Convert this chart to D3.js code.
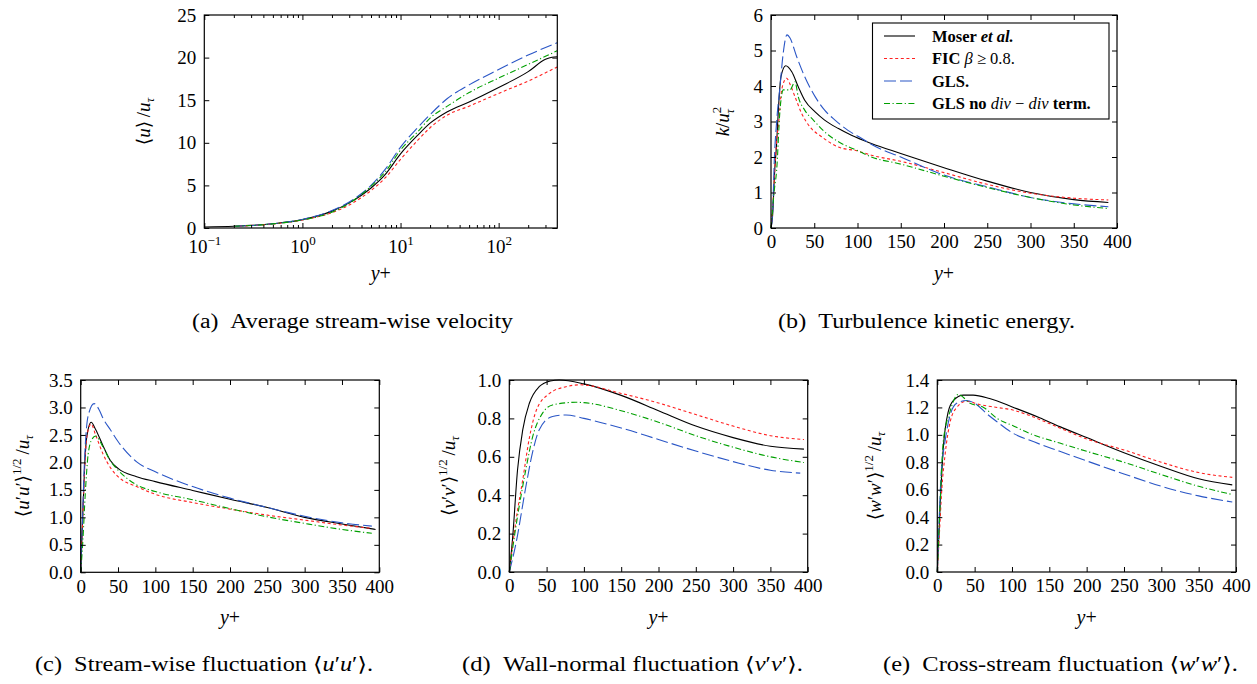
<!DOCTYPE html>
<html><head><meta charset="utf-8">
<script src="https://cdn.jsdelivr.net/npm/d3@7"></script>
<style>
body{margin:0;background:#fff}
svg{display:block}
text{font-family:'Liberation Serif','DejaVu Serif',serif;fill:#000}
</style>
</head><body>
<svg id="chart" width="1257" height="684"></svg>
<script>
// ---------- DATA ----------
// (a) mean velocity <u>/u_tau vs y+ (log x)
const aMoser = [[0.1,0.12],[0.2,0.2],[0.5,0.5],[1,0.98],[2,1.98],[3,2.95],[5,4.7],[7,6.3],[10,8.7],[15,10.9],[20,12.3],[30,13.65],[50,14.8],[100,16.5],[200,18.35],[300,19.8],[350,20.05],[395,20.1]];
const aFIC   = [[0.2,0.2],[0.5,0.48],[1,0.95],[2,1.8],[3,2.7],[5,4.4],[7,5.9],[10,8.06],[15,10.3],[20,11.77],[30,13.26],[50,14.3],[100,15.8],[200,17.25],[395,18.9]];
const aGLS   = [[0.2,0.2],[0.5,0.5],[1,1.0],[2,2.05],[3,3.05],[5,5.0],[7,6.9],[10,9.5],[15,11.8],[20,13.3],[30,15.2],[50,16.8],[100,18.6],[200,20.3],[395,21.75]];
const aGLSnd = [[0.2,0.2],[0.5,0.48],[1,0.95],[2,1.85],[3,2.9],[5,4.9],[7,6.6],[10,9.15],[15,11.3],[20,12.9],[30,14.3],[50,15.9],[100,17.6],[200,19.2],[395,20.8]];
// (b) turbulence kinetic energy k/u_tau^2
const bMoser = [[0,0],[2,0.4],[4,1.5],[6.5,2.38],[8.5,3.32],[11.5,4.26],[17,4.57],[24,4.4],[31.5,3.98],[39,3.6],[51,3.27],[62,3.04],[78,2.8],[93,2.61],[116,2.38],[150,2.1],[200,1.7],[250,1.32],[300,1.0],[350,0.8],[390,0.72]];
const bFIC   = [[0,0],[3,1.0],[6,2.3],[9.2,3.04],[12.3,3.89],[18,4.22],[22,4.05],[27.7,3.7],[35.4,3.23],[45,2.85],[58.5,2.57],[78,2.28],[100,2.17],[116,2.05],[150,1.88],[200,1.56],[250,1.23],[300,0.98],[350,0.84],[390,0.79]];
const bGLS   = [[0,0],[2,0.5],[3.8,1.9],[6.5,2.99],[10.4,3.98],[14,4.9],[18.5,5.44],[22,5.35],[29.6,4.83],[39,4.26],[51,3.7],[62,3.32],[74,3.04],[89,2.75],[105,2.52],[118,2.33],[150,2.0],[200,1.49],[250,1.16],[300,0.86],[350,0.68],[390,0.6]];
const bGLSnd = [[0,0],[3.8,1.06],[6.5,1.62],[10.4,3.32],[14.2,3.89],[22,3.89],[27.7,4.12],[31.5,3.7],[39,3.32],[49,3.04],[62,2.71],[81.5,2.38],[100,2.18],[116,2.0],[150,1.8],[200,1.46],[250,1.14],[300,0.86],[350,0.65],[390,0.55]];
// (c) stream-wise fluctuation
const cMoser = [[0,0],[2,0.75],[5,1.85],[8,2.45],[14,2.73],[20,2.6],[30,2.3],[40,2.03],[50,1.89],[75,1.74],[100,1.65],[150,1.49],[200,1.33],[250,1.18],[300,1.0],[350,0.88],[395,0.78]];
const cFIC   = [[0,0],[2,0.7],[5,1.8],[8,2.45],[14,2.7],[20,2.5],[30,2.15],[40,1.9],[50,1.74],[75,1.56],[100,1.42],[150,1.27],[200,1.15],[250,1.04],[300,0.95],[350,0.86],[390,0.8]];
const cGLS   = [[0,0],[2,0.8],[5,2.0],[10,2.85],[18,3.07],[25,2.95],[30,2.8],[40,2.59],[50,2.38],[75,2.01],[100,1.83],[150,1.56],[200,1.35],[250,1.18],[300,1.02],[350,0.9],[390,0.84]];
const cGLSnd = [[0,0],[3,0.6],[6,1.4],[10,2.15],[15,2.42],[20,2.48],[30,2.28],[40,2.02],[50,1.86],[75,1.59],[100,1.47],[150,1.32],[200,1.16],[250,1.01],[300,0.89],[350,0.78],[390,0.71]];
// (d) wall-normal fluctuation
const dMoser = [[0,0],[4.5,0.18],[11,0.53],[18,0.74],[27,0.88],[40,0.965],[55,0.995],[67,1.0],[100,0.98],[150,0.92],[200,0.84],[250,0.76],[300,0.70],[350,0.655],[395,0.64]];
const dFIC   = [[0,0],[9,0.27],[18,0.48],[27,0.70],[36,0.84],[54,0.93],[76,0.965],[95,0.975],[150,0.93],[200,0.88],[250,0.82],[300,0.76],[350,0.71],[395,0.69]];
const dGLS   = [[0,0],[9,0.15],[22,0.44],[31,0.62],[40,0.74],[58,0.81],[76,0.818],[100,0.80],[150,0.75],[200,0.69],[250,0.63],[300,0.575],[350,0.53],[390,0.515]];
const dGLSnd = [[0,0],[9,0.24],[22,0.53],[31,0.70],[45,0.83],[58,0.87],[89,0.884],[100,0.882],[150,0.84],[200,0.78],[250,0.71],[300,0.65],[350,0.6],[395,0.57]];
// (e) cross-stream fluctuation
const eMoser = [[0,0],[3.6,0.46],[8,0.9],[14.7,1.17],[21.4,1.25],[35,1.29],[48,1.29],[70,1.265],[102,1.2],[137,1.125],[164,1.06],[200,0.98],[250,0.87],[300,0.77],[350,0.68],[395,0.635]];
const eFIC   = [[0,0],[3,0.3],[6,0.6],[10.3,0.85],[17,1.09],[26,1.2],[39,1.245],[57,1.22],[80,1.2],[102,1.18],[124,1.14],[164,1.05],[200,0.97],[250,0.89],[300,0.8],[350,0.725],[395,0.69]];
const eGLS   = [[0,0],[3,0.45],[5,0.7],[10.3,0.95],[17,1.14],[26,1.23],[39,1.25],[53,1.22],[66,1.155],[80,1.095],[102,1.01],[124,0.96],[164,0.88],[200,0.81],[250,0.715],[300,0.625],[350,0.555],[395,0.51]];
const eGLSnd = [[0,0],[3,0.4],[8,0.95],[17,1.17],[28,1.295],[44,1.23],[62,1.2],[80,1.12],[102,1.065],[124,1.01],[164,0.94],[200,0.88],[250,0.8],[300,0.71],[350,0.625],[395,0.565]];

const seriesNames = ["Moser et al.", "FIC \u03b2 \u2265 0.8.", "GLS.", "GLS no div \u2212 div term."];
const linTicksX = [0,50,100,150,200,250,300,350,400];
const logTicksX = [0.1,1,10,100];
const logTickExp = ["\u22121","0","1","2"];
const logMinorX = [0.2,0.3,0.4,0.5,0.6,0.7,0.8,0.9,2,3,4,5,6,7,8,9,20,30,40,50,60,70,80,90,200,300];
const ticksA = [0,5,10,15,20,25];
const ticksB = [0,1,2,3,4,5,6];
const ticksC = [0,0.5,1.0,1.5,2.0,2.5,3.0,3.5];
const ticksD = [0,0.2,0.4,0.6,0.8,1.0];
const ticksE = [0,0.2,0.4,0.6,0.8,1.0,1.2,1.4];

// ---------- STYLE ----------
const SERIF = "'Liberation Serif','DejaVu Serif',serif";
const styles = [
  {color:"#000000", dash:null, w:1.1},
  {color:"#ff2020", dash:"3,2.6", w:1.1},
  {color:"#2a56c6", dash:"12,4", w:1.1},
  {color:"#00a000", dash:"6,2.5,1.2,2.5", w:1.1}
];
const svg = d3.select("#chart");
const FS = 19;

function panel(o){
  const g = svg.append("g").attr("font-family",SERIF);
  const x = o.log ? d3.scaleLog().domain(o.xd).range([o.l,o.r]) : d3.scaleLinear().domain(o.xd).range([o.l,o.r]);
  const y = d3.scaleLinear().domain(o.yd).range([o.b,o.t]);
  const fmtY = o.yfmt ? d3.format(o.yfmt) : d3.format("d");
  const line = d3.line().x(d=>x(d[0])).y(d=>y(d[1])).curve(d3.curveMonotoneX);
  o.data.forEach((d,i)=>{
    const p = g.append("path").datum(d).attr("d",line).attr("fill","none")
      .attr("stroke",styles[i].color).attr("stroke-width",styles[i].w);
    if(styles[i].dash) p.attr("stroke-dasharray",styles[i].dash);
  });
  const ax = (gen, tr) => g.append("g").attr("transform",tr).call(gen).call(s=>s.select(".domain").remove());
  const bottom = ax((o.log?d3.axisBottom(x).tickValues(logTicksX):d3.axisBottom(x).tickValues(linTicksX).tickFormat(d3.format("d"))).tickSize(-5).tickPadding(7), `translate(0,${o.b})`);
  ax(d3.axisTop(x).tickValues(o.log?logTicksX:linTicksX).tickSize(-5).tickFormat(""), `translate(0,${o.t})`);
  if(o.log){
    ax(d3.axisBottom(x).tickValues(logMinorX).tickSize(-3).tickFormat(""), `translate(0,${o.b})`);
    ax(d3.axisTop(x).tickValues(logMinorX).tickSize(-3).tickFormat(""), `translate(0,${o.t})`);
  }
  ax(d3.axisLeft(y).tickValues(o.yt).tickFormat(fmtY).tickSize(-5).tickPadding(8), `translate(${o.l},0)`);
  ax(d3.axisRight(y).tickValues(o.yt).tickSize(-5).tickFormat(""), `translate(${o.r},0)`);
  g.selectAll("g").attr("font-family",SERIF);
  g.selectAll(".tick line").attr("stroke","#000").attr("stroke-width",1);
  g.selectAll(".tick text").attr("font-size",FS).attr("font-family",SERIF).attr("fill","#000");
  if(o.log){
    bottom.selectAll(".tick text").each(function(d,i){
      const t = d3.select(this); t.text("");
      t.attr("dy","0.95em");
      t.append("tspan").text("10");
      t.append("tspan").attr("font-size",13).attr("dy",-8).text(logTickExp[i]);
    });
  }
  g.append("rect").attr("x",o.l).attr("y",o.t).attr("width",o.r-o.l).attr("height",o.b-o.t)
    .attr("fill","none").attr("stroke","#000").attr("stroke-width",1.2);
  const xt = g.append("text").attr("x",(o.l+o.r)/2).attr("y",o.b+52).attr("text-anchor","middle").attr("font-size",FS+1);
  xt.append("tspan").attr("font-style","italic").text("y");
  xt.append("tspan").text("+");
  const yt = g.append("text").attr("transform",`translate(${o.ylx},${(o.t+o.b)/2}) rotate(-90)`)
    .attr("text-anchor","middle").attr("font-size",FS);
  o.ylab(yt);
  const cap = g.append("text").attr("x",o.capx).attr("y",o.capy).attr("text-anchor","middle").attr("font-size",20)
    .attr("font-family",SERIF).attr("textLength",o.capw).attr("lengthAdjust","spacingAndGlyphs");
  o.cap(cap);
  return {g,x,y};
}
function it(t,s){ t.append("tspan").attr("font-style","italic").text(s); }
function tx(t,s){ t.append("tspan").text(s); }
function fluctLabel(c){
  return t=>{
    tx(t,"\u27e8"); it(t,c); tx(t,"\u2032"); it(t,c); tx(t,"\u2032\u27e9");
    t.append("tspan").attr("font-size",13).attr("dy",-8).text("1/2");
    t.append("tspan").attr("dy",8).text("\u2009/");
    it(t,"u");
    t.append("tspan").attr("font-size",13).attr("font-style","italic").attr("dy",4).text("\u03c4");
  };
}
function fluctCap(label,c){
  return t=>{ tx(t,label+" \u27e8"); it(t,c); tx(t,"\u2032"); it(t,c); tx(t,"\u2032\u27e9."); };
}

panel({log:true, l:204.3, r:557.3, t:15, b:228, xd:[0.1,396], yd:[0,25], yt:ticksA,
  data:[aMoser,aFIC,aGLS,aGLSnd], ylx:150,
  ylab:t=>{ tx(t,"\u27e8"); it(t,"u"); tx(t,"\u27e9\u2009/"); it(t,"u"); t.append("tspan").attr("font-size",13).attr("font-style","italic").attr("dy",4).text("\u03c4"); },
  capx:352.5, capy:328, capw:321, cap:t=>tx(t,"(a)\u2002Average stream-wise velocity")});

panel({log:false, l:771, r:1117, t:15, b:228, xd:[0,400], yd:[0,6], yt:ticksB,
  data:[bMoser,bFIC,bGLS,bGLSnd], ylx:729,
  ylab:t=>{ it(t,"k"); tx(t,"/"); it(t,"u"); t.append("tspan").attr("font-size",13).attr("dy",-8).text("2");
    t.append("tspan").attr("font-size",13).attr("font-style","italic").attr("dx",-7).attr("dy",13).text("\u03c4"); },
  capx:926.5, capy:328, capw:297, cap:t=>tx(t,"(b)\u2002Turbulence kinetic energy.")});

panel({log:false, l:80.7, r:379.3, t:380, b:572.3, xd:[0,400], yd:[0,3.5], yt:ticksC, yfmt:".1f",
  data:[cMoser,cFIC,cGLS,cGLSnd], ylx:29, ylab:fluctLabel("u"),
  capx:204, capy:671, capw:338, cap:fluctCap("(c)\u2002Stream-wise fluctuation","u")});

panel({log:false, l:509.3, r:807.7, t:380, b:572, xd:[0,400], yd:[0,1.0], yt:ticksD, yfmt:".1f",
  data:[dMoser,dFIC,dGLS,dGLSnd], ylx:455, ylab:fluctLabel("v"),
  capx:632.5, capy:671, capw:341, cap:fluctCap("(d)\u2002Wall-normal fluctuation","v")});

panel({log:false, l:937.3, r:1236, t:380, b:572, xd:[0,400], yd:[0,1.4], yt:ticksE, yfmt:".1f",
  data:[eMoser,eFIC,eGLS,eGLSnd], ylx:881, ylab:fluctLabel("w"),
  capx:1060.5, capy:671, capw:355, cap:fluctCap("(e)\u2002Cross-stream fluctuation","w")});

// ---------- LEGEND (panel b) ----------
const lg = svg.append("g").attr("font-family",SERIF);
lg.append("rect").attr("x",872.5).attr("y",23).attr("width",236.5).attr("height",96)
  .attr("fill","#fff").attr("stroke","#000").attr("stroke-width",1.1);
const rowsY = [36,58.5,81,103.5];
seriesNames.forEach((n,i)=>{
  const ln = lg.append("line").attr("x1",884).attr("x2",915).attr("y1",rowsY[i]).attr("y2",rowsY[i])
    .attr("stroke",styles[i].color).attr("stroke-width",styles[i].w);
  if(styles[i].dash) ln.attr("stroke-dasharray",styles[i].dash);
  const t = lg.append("text").attr("x",932).attr("y",rowsY[i]+5.5).attr("font-size",16.5);
  if(i===0){ t.append("tspan").attr("font-weight","bold").text("Moser "); t.append("tspan").attr("font-weight","bold").attr("font-style","italic").text("et al."); }
  if(i===1){ t.append("tspan").attr("font-weight","bold").text("FIC "); it(t,"\u03b2"); tx(t," \u2265 0.8."); }
  if(i===2){ t.append("tspan").attr("font-weight","bold").text("GLS."); }
  if(i===3){ t.append("tspan").attr("font-weight","bold").text("GLS no "); it(t,"div"); tx(t," \u2212 "); it(t,"div"); t.append("tspan").attr("font-weight","bold").text(" term."); }
});
</script>
</body></html>
